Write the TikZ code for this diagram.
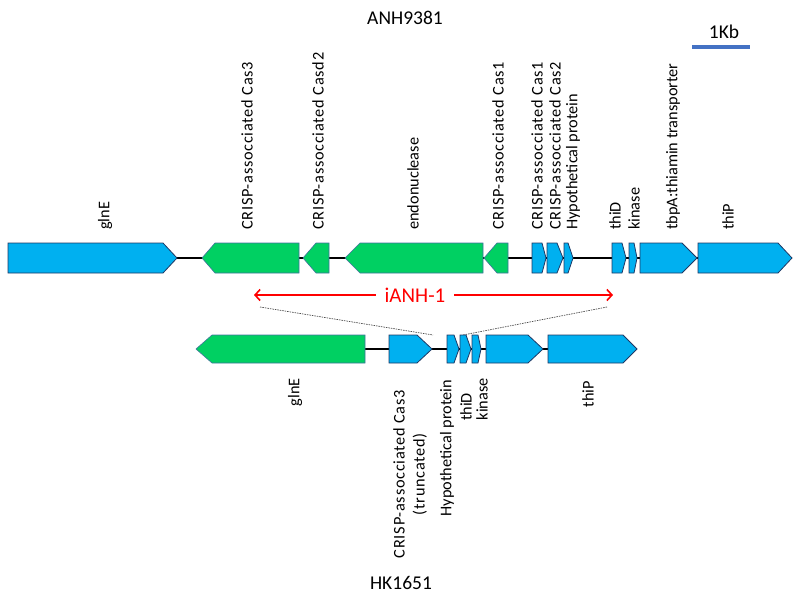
\documentclass[tikz,border=0pt]{standalone}
\usepackage{fontspec}
\setmainfont{Carlito}
\usetikzlibrary{arrows.meta}
\definecolor{geneblue}{RGB}{0,176,240}
\definecolor{genegreen}{RGB}{0,208,98}
\definecolor{blueedge}{RGB}{31,56,100}
\definecolor{greenedge}{RGB}{65,113,156}
\definecolor{barblue}{RGB}{68,114,196}
\newfontfamily\crispfont[LetterSpace=4.5]{Carlito}
\tikzset{
  bluegene/.style={fill=geneblue, draw=blueedge, line width=0.8pt, line join=miter},
  greengene/.style={fill=genegreen, draw=greenedge, line width=0.6pt, line join=miter},
  backbone/.style={draw=black, line width=1.8pt},
  lab/.style={font=\fontsize{16.3}{20}\selectfont, inner sep=0pt, rotate=90},
  crisplab/.style={font=\fontsize{16.3}{20}\selectfont\crispfont, inner sep=0pt, rotate=90},
  title/.style={font=\fontsize{19.5}{22}\selectfont, inner sep=0pt},
  guide/.style={draw=black!70, line width=0.7pt, dash pattern=on 1.5pt off 1pt},
}
% right-pointing gene: x1 (left), xb (body end), x2 (tip), ytop, ybot, style
\newcommand\geneR[6]{\path[#6] (#1,#4) -- (#2,#4) -- (#3,{(#4+#5)/2}) -- (#2,#5) -- (#1,#5) -- cycle;}
% left-pointing gene: x1 (tip), xb (body start), x2 (right), ytop, ybot, style
\newcommand\geneL[6]{\path[#6] (#1,{(#4+#5)/2}) -- (#2,#4) -- (#3,#4) -- (#3,#5) -- (#2,#5) -- cycle;}
\begin{document}
\begin{tikzpicture}[x=1pt,y=-1pt]
\useasboundingbox (0,0) rectangle (800,597);
% titles
\node[title] (t1) at (405,18) {ANH9381};
\node[title] (t2) at (401,583) {HK1651};
\node[title] (kb) at (724,32) {1Kb};
\coordinate (kbA) at (692,47);
\coordinate (kbB) at (750,47);
\draw[barblue, line width=4pt] (kbA) -- (kbB);
% top row backbone
\coordinate (bt1) at (177,258);
\coordinate (bt2) at (698,258);
\draw[backbone] (bt1) -- (bt2);
% top row genes
\geneR{8}{163}{177}{243}{273}{bluegene}
\geneL{202}{215}{299}{243}{273}{greengene}
\geneL{303}{316}{329}{243}{273}{greengene}
\geneL{345}{360}{483}{243}{273}{greengene}
\geneL{484}{497}{508}{243}{273}{greengene}
\geneR{532}{542}{546}{243}{273}{bluegene}
\geneR{547}{557}{563}{243}{273}{bluegene}
\geneR{564}{568}{573}{243}{273}{bluegene}
\geneR{612}{622}{626}{243}{273}{bluegene}
\geneR{629}{634}{637}{243}{273}{bluegene}
\geneR{640}{682}{697}{243}{273}{bluegene}
\geneR{698}{778}{792}{243}{273}{bluegene}
% top labels
\node[lab, anchor=west] (l1) at (105,230) {glnE};
\node[crisplab, anchor=west] (l2) at (247,230) {CRISP-assocciated Cas3};
\node[crisplab, anchor=west] (l3) at (318,230) {CRISP-assocciated Casd2};
\node[lab, anchor=west] (l4) at (413,230) {endonuclease};
\node[crisplab, anchor=west] (l5) at (498,230) {CRISP-assocciated Cas1};
\node[crisplab, anchor=west] (l6) at (537,230) {CRISP-assocciated Cas1};
\node[crisplab, anchor=west] (l7) at (555,230) {CRISP-assocciated Cas2};
\node[lab, anchor=west] (l8) at (573,230) {Hypothetical protein};
\node[lab, anchor=west] (l9) at (615,230) {thiD};
\node[lab, anchor=west] (l10) at (634,230) {kinase};
\node[lab, anchor=west] (l11) at (673,230) {tbpA:thiamin transporter};
\node[lab, anchor=west] (l12) at (728,230) {thiP};
% iANH-1 arrow
\coordinate (ra) at (254,295);
\coordinate (rb) at (613,295);
\draw[red, line width=1.6pt, {Straight Barb[length=5pt,width=11pt]}-{Straight Barb[length=5pt,width=11pt]}] (ra) -- (rb);
\node[fill=white, text=red, inner xsep=9pt, inner ysep=2pt, font=\fontsize{21}{24}\selectfont] (ianh) at (415,295) {iANH-1};
% guide lines
\coordinate (g1) at (260,307);
\coordinate (g2) at (433,335);
\coordinate (g3) at (607,307);
\coordinate (g4) at (463,335);
\draw[guide] (g1) -- (g2);
\draw[guide] (g3) -- (g4);
% bottom row backbone
\coordinate (bb1) at (365,349);
\coordinate (bb2) at (548,349);
\draw[backbone] (bb1) -- (bb2);
% bottom row genes
\geneL{196}{212}{365}{335}{363}{greengene}
\geneR{389}{417}{432}{335}{363}{bluegene}
\geneR{447}{454}{459}{335}{363}{bluegene}
\geneR{460}{466}{471}{335}{363}{bluegene}
\geneR{472}{478}{481}{335}{363}{bluegene}
\geneR{486}{528}{543}{335}{363}{bluegene}
\geneR{548}{623}{637}{335}{363}{bluegene}
% bottom labels
\node[lab, anchor=east] (b1) at (295,378) {glnE};
\node[crisplab, anchor=east, align=center] (b2) at (410,390) {CRISP-assocciated Cas3\\(truncated)};
\node[lab, anchor=east] (b3) at (447,380) {Hypothetical protein};
\node[lab] (b4) at (466,407) {thiD};
\node[lab, anchor=east] (b5) at (482,378) {kinase};
\node[lab, anchor=east] (b6) at (588,381) {thiP};
\end{tikzpicture}
\end{document}
